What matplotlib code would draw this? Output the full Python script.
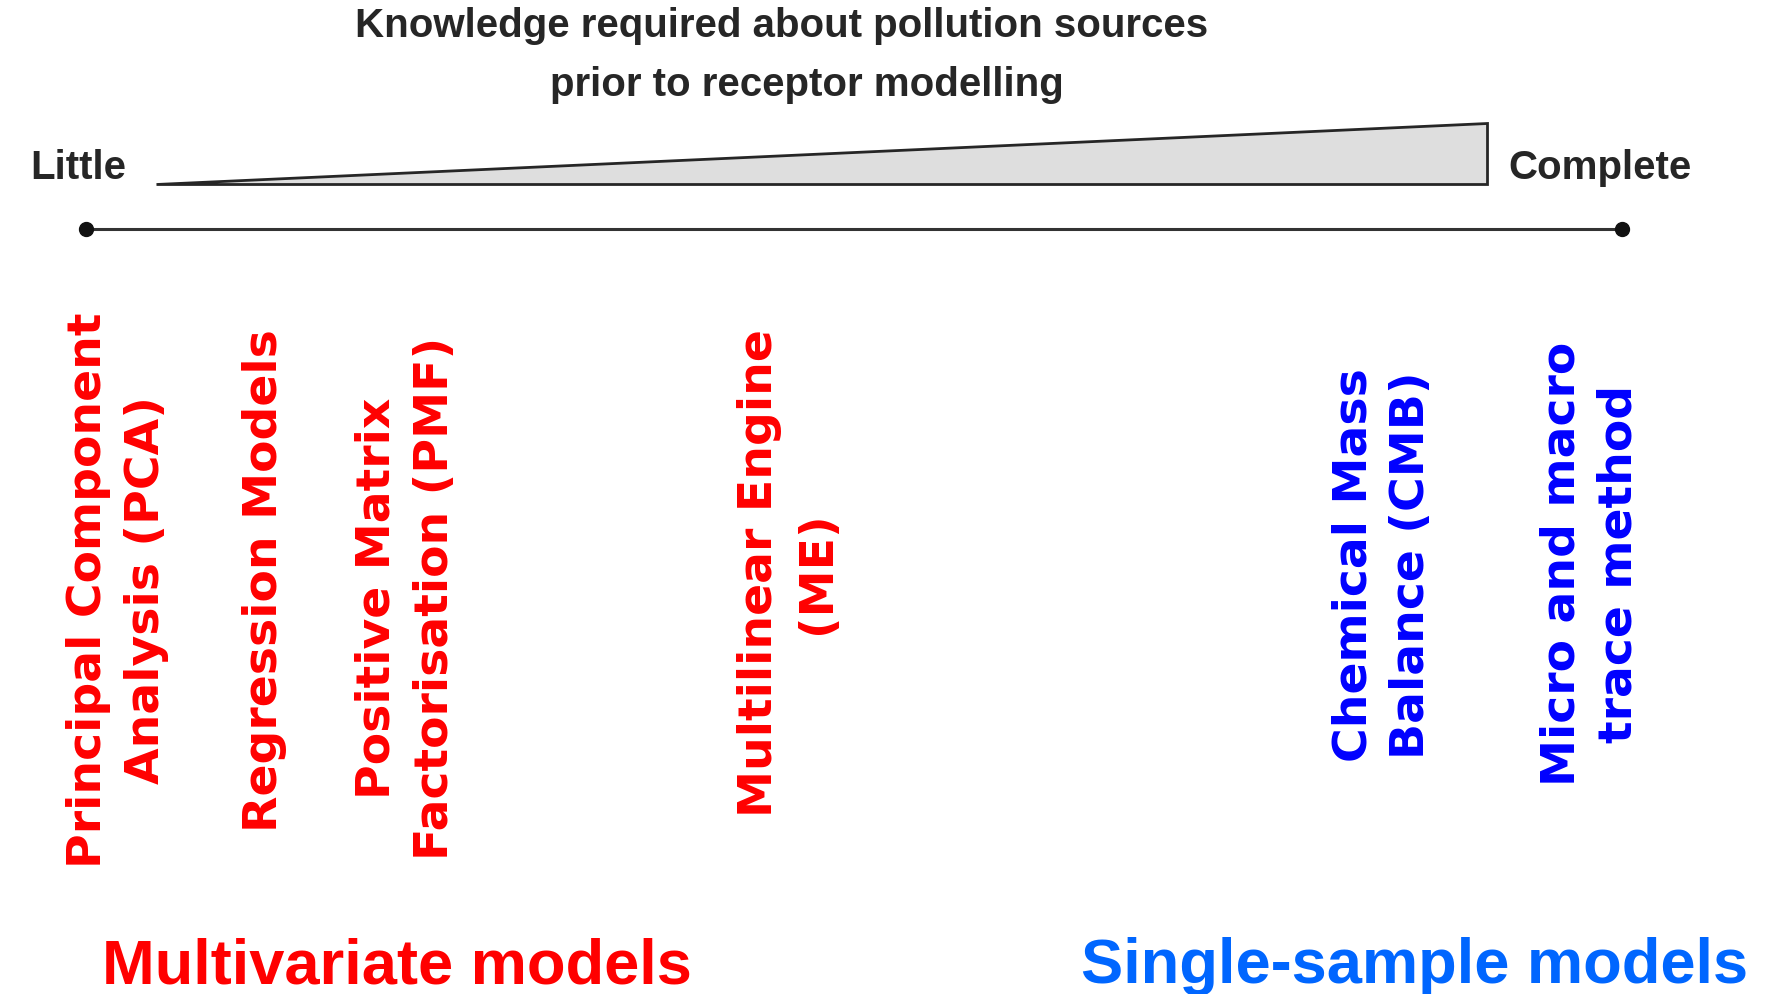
import matplotlib
matplotlib.use('Agg')
import matplotlib.pyplot as plt
from matplotlib.patches import Polygon

# Receptor models placed along the "knowledge required" scale (0 = little, 100 = complete)
METHODS = [
    'Principal Component\nAnalysis (PCA)',
    'Regression Models',
    'Positive Matrix\nFactorisation (PMF)',
    'Multilinear Engine\n(ME)',
    'Chemical Mass\nBalance (CMB)',
    'Micro and macro\ntrace method',
]
KNOWLEDGE = [1.8, 11.65, 20.6, 45.5, 84.2, 97.7]
GROUP = ['multi', 'multi', 'multi', 'multi', 'single', 'single']

GROUP_NAMES = ['Multivariate models', 'Single-sample models']

TITLE = ['Knowledge required about pollution sources', 'prior to receptor modelling']
SCALE_ENDS = ['Little', 'Complete']

W, H = 1772, 994
PX_PER_UNIT = 15.36
X0 = 86  # pixel of knowledge 0

GREY = '#262626'
METHOD_COLORS = {'multi': '#ff0000', 'single': '#0000ff'}
GROUP_COLORS = ['#ff0000', '#0066ff']

fig = plt.figure(figsize=(W / 100, H / 100), dpi=100)
ax = fig.add_axes([0, 0, 1, 1])
ax.set_xlim(-X0 / PX_PER_UNIT, (W - X0) / PX_PER_UNIT)
ax.set_ylim(H, 0)
ax.axis('off')

title_font = dict(family='Liberation Sans', weight='bold', size=29, color=GREY)

# title
ax.text(45.3, 37, TITLE[0], ha='center', va='baseline', **title_font)
ax.text(46.9, 96, TITLE[1], ha='center', va='baseline', **title_font)

# wedge showing increasing knowledge
wedge = Polygon(
    [(4.56, 184), (91.2, 184), (91.2, 123)],
    closed=True, facecolor='#dedede', edgecolor=GREY, linewidth=2,
)
ax.add_patch(wedge)

ax.text(-3.65, 179, SCALE_ENDS[0], ha='left', va='baseline', **title_font)
ax.text(92.6, 179, SCALE_ENDS[1], ha='left', va='baseline', **title_font)

# scale line
ax.plot([0, 100], [229, 229], color='#333333', linewidth=2.2, zorder=2)
ax.plot([0, 100], [229, 229], 'o', color='#111111', markersize=10, zorder=3)

# method labels
label_y = [590, 581, 598, 573, 565, 564]
for name, k, g, y in zip(METHODS, KNOWLEDGE, GROUP, label_y):
    ax.text(
        k + (0.25 if '\n' in name else 0), y, name, rotation=90,
        ha='center', va='center', multialignment='center',
        color=METHOD_COLORS[g], family='DejaVu Sans', weight='bold',
        size=34, linespacing=1.36,
    )

# group names
ax.text(1.04, 983, GROUP_NAMES[0], ha='left', va='baseline', color=GROUP_COLORS[0],
        family='Liberation Sans', weight='bold', size=45.5)
ax.text(64.8, 983, GROUP_NAMES[1], ha='left', va='baseline', color=GROUP_COLORS[1],
        family='Liberation Sans', weight='bold', size=45.5)

fig.savefig('out.png', dpi=100, facecolor='white')
